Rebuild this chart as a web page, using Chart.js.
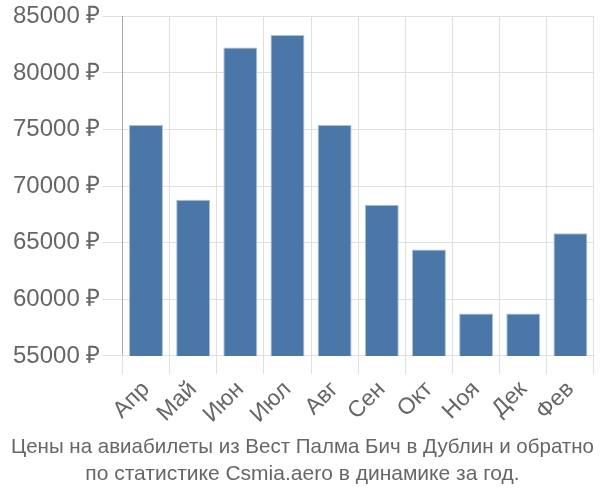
<!DOCTYPE html>
<html>
<head>
<meta charset="utf-8">
<script src="https://cdn.jsdelivr.net/npm/chart.js@4/dist/chart.umd.min.js"></script>
<style>
  html, body { margin: 0; padding: 0; background: #fff; }
  #wrap { width: 600px; height: 500px; }
</style>
</head>
<body>
<div id="wrap"><canvas id="priceChart"></canvas></div>
<script>
// данные графика
const months = ['Апр', 'Май', 'Июн', 'Июл', 'Авг', 'Сен', 'Окт', 'Ноя', 'Дек', 'Фев'];
const prices = [75400, 68800, 82250, 83350, 75400, 68350, 64400, 58750, 58750, 65850];
const yTicks = [55000, 60000, 65000, 70000, 75000, 80000, 85000];
const titleLines = [
  'Цены на авиабилеты из Вест Палма Бич в Дублин и обратно',
  'по статистике Csmia.aero в динамике за год.'
];

const ctx = document.getElementById('priceChart').getContext('2d');
new Chart(ctx, {
  type: 'bar',
  data: {
    labels: months,
    datasets: [{
      data: prices,
      backgroundColor: '#4a77a7',
      borderColor: '#a9c0df',
      borderWidth: 1
    }]
  },
  options: {
    responsive: true,
    maintainAspectRatio: false,
    animation: false,
    layout: { padding: { top: 2, right: 6, left: 11, bottom: 0 } },
    plugins: {
      legend: { display: false },
      tooltip: { enabled: false },
      title: {
        display: true,
        position: 'bottom',
        text: titleLines,
        color: '#666',
        font: { family: '"Liberation Sans", Arial, sans-serif', size: 21, weight: 'normal', lineHeight: 1.25 },
        padding: { top: 4, bottom: 13 }
      }
    },
    scales: {
      y: {
        min: 55000,
        max: 85000,
        afterBuildTicks: axis => { axis.ticks = yTicks.map(v => ({ value: v })); },
        ticks: {
          color: '#666',
          padding: 2,
          font: { family: '"Liberation Sans", Arial, sans-serif', size: 24 },
          callback: v => v + ' ₽'
        },
        grid: { color: '#e0e0e0', lineWidth: 1, tickLength: 20 },
        border: { color: '#aaa', width: 1 }
      },
      x: {
        ticks: {
          color: '#666',
          maxRotation: 45,
          minRotation: 45,
          padding: 2,
          font: { family: '"Liberation Sans", Arial, sans-serif', size: 23 }
        },
        grid: { color: '#e0e0e0', lineWidth: 1, tickLength: 18, offset: true },
        border: { color: '#e0e0e0', width: 1 }
      }
    }
  }
});
</script>
</body>
</html>
